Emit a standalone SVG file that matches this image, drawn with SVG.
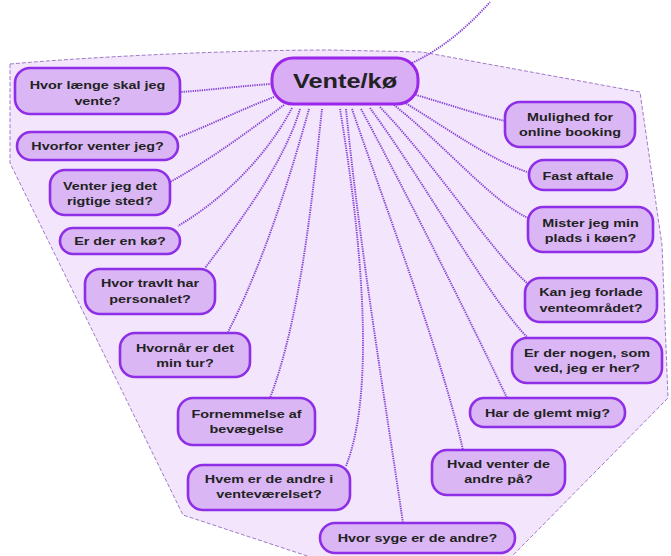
<svg xmlns="http://www.w3.org/2000/svg" width="671" height="556" viewBox="0 0 671 556">
  <style>
    .area { fill: #f2e5fc; stroke: #a07ac8; stroke-width: 1; stroke-dasharray: 4 2; }
    .node { fill: #dab6f4; stroke: #8e2ee6; stroke-width: 2.6; }
    .hub { fill: #d9aef5; stroke: #9a27ea; stroke-width: 3; }
    .t { font-family: "Liberation Sans", Arial, sans-serif; font-weight: bold; font-size: 11.4px; fill: #222; text-anchor: middle; }
    .ht { font-family: "Liberation Sans", Arial, sans-serif; font-weight: bold; font-size: 19.5px; fill: #222; text-anchor: middle; }
    .link { fill: none; stroke: #8540d6; stroke-width: 1.9; stroke-dasharray: 1.3 1; }
  </style>

  <rect width="671" height="556" fill="#ffffff"/>

  <!-- lavender background area -->
  <path class="area" d="M 10 64 C 100 56 240 50 330 50 L 422 52 L 640 92 L 662 245 L 668 398 L 462 607 L 183 515 L 10 163 Z"/>

  <!-- connectors -->
  <g id="connectors">
    <path class="link" d="M 410 64 C 440 50 465 30 490 2"/>
    <path class="link" d="M 272 84 C 240 86 210 90 181 92"/>
    <path class="link" d="M 274 97 C 240 110 210 125 179 137"/>
    <path class="link" d="M 284 105 C 250 130 210 160 170 182"/>
    <path class="link" d="M 292 108 C 270 150 230 195 178 226"/>
    <path class="link" d="M 300 109 C 285 160 245 215 205 268"/>
    <path class="link" d="M 309 109 C 292 170 265 260 228 332"/>
    <path class="link" d="M 322 109 C 312 200 300 320 270 398"/>
    <path class="link" d="M 340 109 C 355 200 380 380 346 466"/>
    <path class="link" d="M 346 109 C 360 250 385 400 403 523"/>
    <path class="link" d="M 352 109 C 390 220 440 350 463 450"/>
    <path class="link" d="M 361 109 C 410 200 470 320 507 398"/>
    <path class="link" d="M 370 108 C 430 190 490 300 528 338"/>
    <path class="link" d="M 380 107 C 440 170 490 250 527 283"/>
    <path class="link" d="M 394 105 C 450 150 490 200 528 218"/>
    <path class="link" d="M 402 101 C 450 130 490 160 530 173"/>
    <path class="link" d="M 413 94 C 450 105 480 115 505 121"/>
  </g>

  <!-- central topic -->
  <g id="vente-koe">
    <rect class="hub" x="272" y="58" width="146" height="46" rx="21"/>
    <text class="ht" transform="matrix(1.3 0 0 1 345 0)" x="0" y="88">Vente/kø</text>
  </g>

  <!-- left branches -->
  <g id="hvor-laenge">
    <rect class="node" x="15" y="68" width="165" height="46" rx="15"/>
    <text class="t" transform="matrix(1.26 0 0 1 97.5 0)"><tspan x="0" y="89">Hvor længe skal jeg</tspan><tspan x="0" y="105">vente?</tspan></text>
  </g>
  <g id="hvorfor">
    <rect class="node" x="17" y="132" width="161" height="28" rx="14"/>
    <text class="t" transform="matrix(1.26 0 0 1 97.5 0)" x="0" y="150">Hvorfor venter jeg?</text>
  </g>
  <g id="rigtige-sted">
    <rect class="node" x="50" y="170" width="120" height="45" rx="15"/>
    <text class="t" transform="matrix(1.26 0 0 1 110 0)"><tspan x="0" y="190">Venter jeg det</tspan><tspan x="0" y="205">rigtige sted?</tspan></text>
  </g>
  <g id="koe">
    <rect class="node" x="60" y="228" width="120" height="26" rx="13"/>
    <text class="t" transform="matrix(1.26 0 0 1 120 0)" x="0" y="245">Er der en kø?</text>
  </g>
  <g id="travlt">
    <rect class="node" x="85" y="269" width="130" height="45" rx="15"/>
    <text class="t" transform="matrix(1.26 0 0 1 150 0)"><tspan x="0" y="287">Hvor travlt har</tspan><tspan x="0" y="303">personalet?</tspan></text>
  </g>
  <g id="min-tur">
    <rect class="node" x="120" y="333" width="130" height="44" rx="15"/>
    <text class="t" transform="matrix(1.26 0 0 1 185 0)"><tspan x="0" y="352">Hvornår er det</tspan><tspan x="0" y="367">min tur?</tspan></text>
  </g>
  <g id="bevaegelse">
    <rect class="node" x="178" y="398" width="137" height="47" rx="15"/>
    <text class="t" transform="matrix(1.26 0 0 1 246.5 0)"><tspan x="0" y="418">Fornemmelse af</tspan><tspan x="0" y="433">bevægelse</tspan></text>
  </g>
  <g id="hvem-andre">
    <rect class="node" x="188" y="465" width="162" height="45" rx="15"/>
    <text class="t" transform="matrix(1.26 0 0 1 269 0)"><tspan x="0" y="483">Hvem er de andre i</tspan><tspan x="0" y="498">venteværelset?</tspan></text>
  </g>
  <g id="hvor-syge">
    <rect class="node" x="320" y="523" width="195" height="30" rx="15"/>
    <text class="t" transform="matrix(1.26 0 0 1 417.5 0)" x="0" y="542">Hvor syge er de andre?</text>
  </g>

  <!-- right branches -->
  <g id="hvad-venter">
    <rect class="node" x="432" y="450" width="133" height="45" rx="15"/>
    <text class="t" transform="matrix(1.26 0 0 1 498.5 0)"><tspan x="0" y="468">Hvad venter de</tspan><tspan x="0" y="483">andre på?</tspan></text>
  </g>
  <g id="glemt">
    <rect class="node" x="470" y="398" width="155" height="29" rx="14"/>
    <text class="t" transform="matrix(1.26 0 0 1 547.5 0)" x="0" y="417">Har de glemt mig?</text>
  </g>
  <g id="nogen">
    <rect class="node" x="512" y="338" width="150" height="45" rx="15"/>
    <text class="t" transform="matrix(1.26 0 0 1 587 0)"><tspan x="0" y="357">Er der nogen, som</tspan><tspan x="0" y="372">ved, jeg er her?</tspan></text>
  </g>
  <g id="forlade">
    <rect class="node" x="525" y="278" width="132" height="44" rx="15"/>
    <text class="t" transform="matrix(1.26 0 0 1 591 0)"><tspan x="0" y="296">Kan jeg forlade</tspan><tspan x="0" y="312">venteområdet?</tspan></text>
  </g>
  <g id="plads">
    <rect class="node" x="528" y="207" width="125" height="45" rx="15"/>
    <text class="t" transform="matrix(1.26 0 0 1 590.5 0)"><tspan x="0" y="227">Mister jeg min</tspan><tspan x="0" y="242">plads i køen?</tspan></text>
  </g>
  <g id="fast-aftale">
    <rect class="node" x="529" y="160" width="98" height="30" rx="15"/>
    <text class="t" transform="matrix(1.26 0 0 1 578 0)" x="0" y="180">Fast aftale</text>
  </g>
  <g id="online-booking">
    <rect class="node" x="505" y="102" width="130" height="45" rx="15"/>
    <text class="t" transform="matrix(1.26 0 0 1 570 0)"><tspan x="0" y="121">Mulighed for</tspan><tspan x="0" y="136">online booking</tspan></text>
  </g>
</svg>
